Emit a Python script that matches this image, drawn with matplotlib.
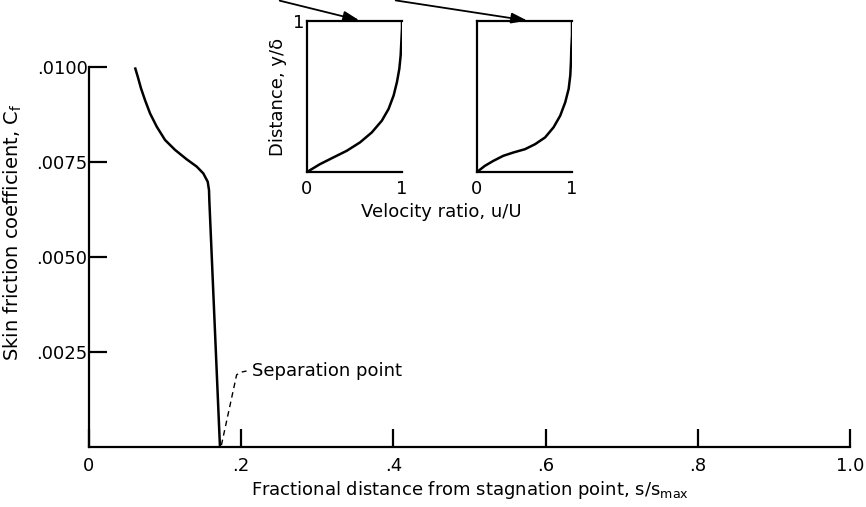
import matplotlib.pyplot as plt
from matplotlib.ticker import FixedLocator

plt.rcParams["font.family"] = ["DejaVu Sans"]

# skin friction along the surface
s_frac = [0.0604, 0.0640, 0.0683, 0.0736, 0.0802, 0.0890, 0.0999, 0.1130, 0.1284,
          0.1415, 0.1502, 0.1560, 0.1577, 0.1581, 0.1721]
cf = [0.00999, 0.00975, 0.00944, 0.00913, 0.00878, 0.00843, 0.00808, 0.00782, 0.00757,
      0.00738, 0.00720, 0.00698, 0.00676, 0.00650, 0.0]

x_ticks = [0, 0.2, 0.4, 0.6, 0.8, 1.0]
x_labels = ["0", ".2", ".4", ".6", ".8", "1.0"]
y_ticks = [0.0025, 0.0050, 0.0075, 0.0100]
y_labels = [".0025", ".0050", ".0075", ".0100"]

# velocity profiles (u/U vs y/delta)
u_attached = [0.0, 0.134, 0.276, 0.417, 0.558, 0.682, 0.788, 0.859, 0.912, 0.947,
              0.972, 0.986, 0.993, 1.0, 1.0]
y_attached = [0.0, 0.051, 0.096, 0.140, 0.196, 0.262, 0.340, 0.418, 0.507, 0.596,
              0.684, 0.773, 0.862, 0.951, 1.0]
u_near_sep = [0.0, 0.081, 0.170, 0.276, 0.382, 0.505, 0.611, 0.717, 0.806, 0.876,
              0.929, 0.965, 0.982, 0.989, 0.993, 1.0, 1.0]
y_near_sep = [0.0, 0.040, 0.073, 0.107, 0.129, 0.151, 0.184, 0.229, 0.296, 0.373,
              0.462, 0.551, 0.640, 0.729, 0.818, 0.907, 1.0]

W, H = 866, 507
fig = plt.figure(figsize=(W / 100, H / 100), dpi=100)

ax = fig.add_axes([89 / W, 1 - 447 / H, (850 - 89) / W, (447 - 67) / H])
ax.plot(s_frac, cf, color="black", lw=1.8, solid_joinstyle="round", solid_capstyle="butt")
ax.set_xlim(0, 1.0)
ax.set_ylim(0, 0.0100)
for side in ("top", "right"):
    ax.spines[side].set_visible(False)
for side in ("left", "bottom"):
    ax.spines[side].set_linewidth(1.6)
ax.xaxis.set_major_locator(FixedLocator(x_ticks))
ax.set_xticklabels(x_labels)
ax.yaxis.set_major_locator(FixedLocator(y_ticks))
ax.set_yticklabels(y_labels)
ax.tick_params(axis="both", direction="in", length=13, width=1.6, labelsize=13)
ax.tick_params(axis="x", pad=7)
ax.tick_params(axis="y", pad=1)
ax.set_xlabel("Fractional distance from stagnation point, s/s$_{\\mathrm{max}}$", fontsize=13, labelpad=3)
ax.set_ylabel("Skin friction coefficient, C$_{\\mathrm{f}}$", fontsize=14)
ax.yaxis.set_label_coords(-0.085, 0.566)

# separation point leader
ax.plot([0.174, 0.194, 0.200, 0.207], [0.00005, 0.0019, 0.00197, 0.00200],
        color="black", lw=1.0, ls=(0, (4, 3)))
ax.text(0.214, 0.0020, "Separation point", fontsize=13, va="center", ha="left")

# insets
inset_boxes = [(307, 402), (477, 572)]
profiles = [(u_attached, y_attached), (u_near_sep, y_near_sep)]
insets = []
for (x0, x1), (u, yy) in zip(inset_boxes, profiles):
    iax = fig.add_axes([x0 / W, 1 - 172 / H, (x1 - x0) / W, (172 - 21) / H])
    iax.plot(u, yy, color="black", lw=1.8)
    iax.set_xlim(0, 1)
    iax.set_ylim(0, 1)
    iax.spines["right"].set_visible(False)
    for side in ("left", "top", "bottom"):
        iax.spines[side].set_linewidth(1.6)
    iax.set_xticks([0, 1])
    iax.set_xticklabels(["0", "1"])
    iax.set_yticks([])
    iax.tick_params(axis="both", length=0, labelsize=13, pad=6)
    iax.patch.set_alpha(0)
    insets.append(iax)

insets[0].set_yticks([1])
insets[0].set_yticklabels(["1"])
insets[0].tick_params(axis="y", length=0, labelsize=13, pad=2)
insets[0].set_ylabel("Distance, y/δ", fontsize=13, labelpad=4)
fig.text(441 / W, 1 - 212 / H, "Velocity ratio, u/U", fontsize=13, ha="center", va="center")

# arrows pointing at the profiles
for (tx, ty), (sx, sy) in [((362, 21), (277, 0)), ((530, 21), (393, 0))]:
    fig.add_artist(plt.Annotation(
        "", xy=(tx / W, 1 - ty / H), xytext=(sx / W, 1 - sy / H),
        xycoords="figure fraction", textcoords="figure fraction",
        arrowprops=dict(arrowstyle="-|>,head_length=0.6,head_width=0.2", color="black",
                        lw=1.3, mutation_scale=16),
        annotation_clip=False))

fig.savefig("out.png", dpi=100)
